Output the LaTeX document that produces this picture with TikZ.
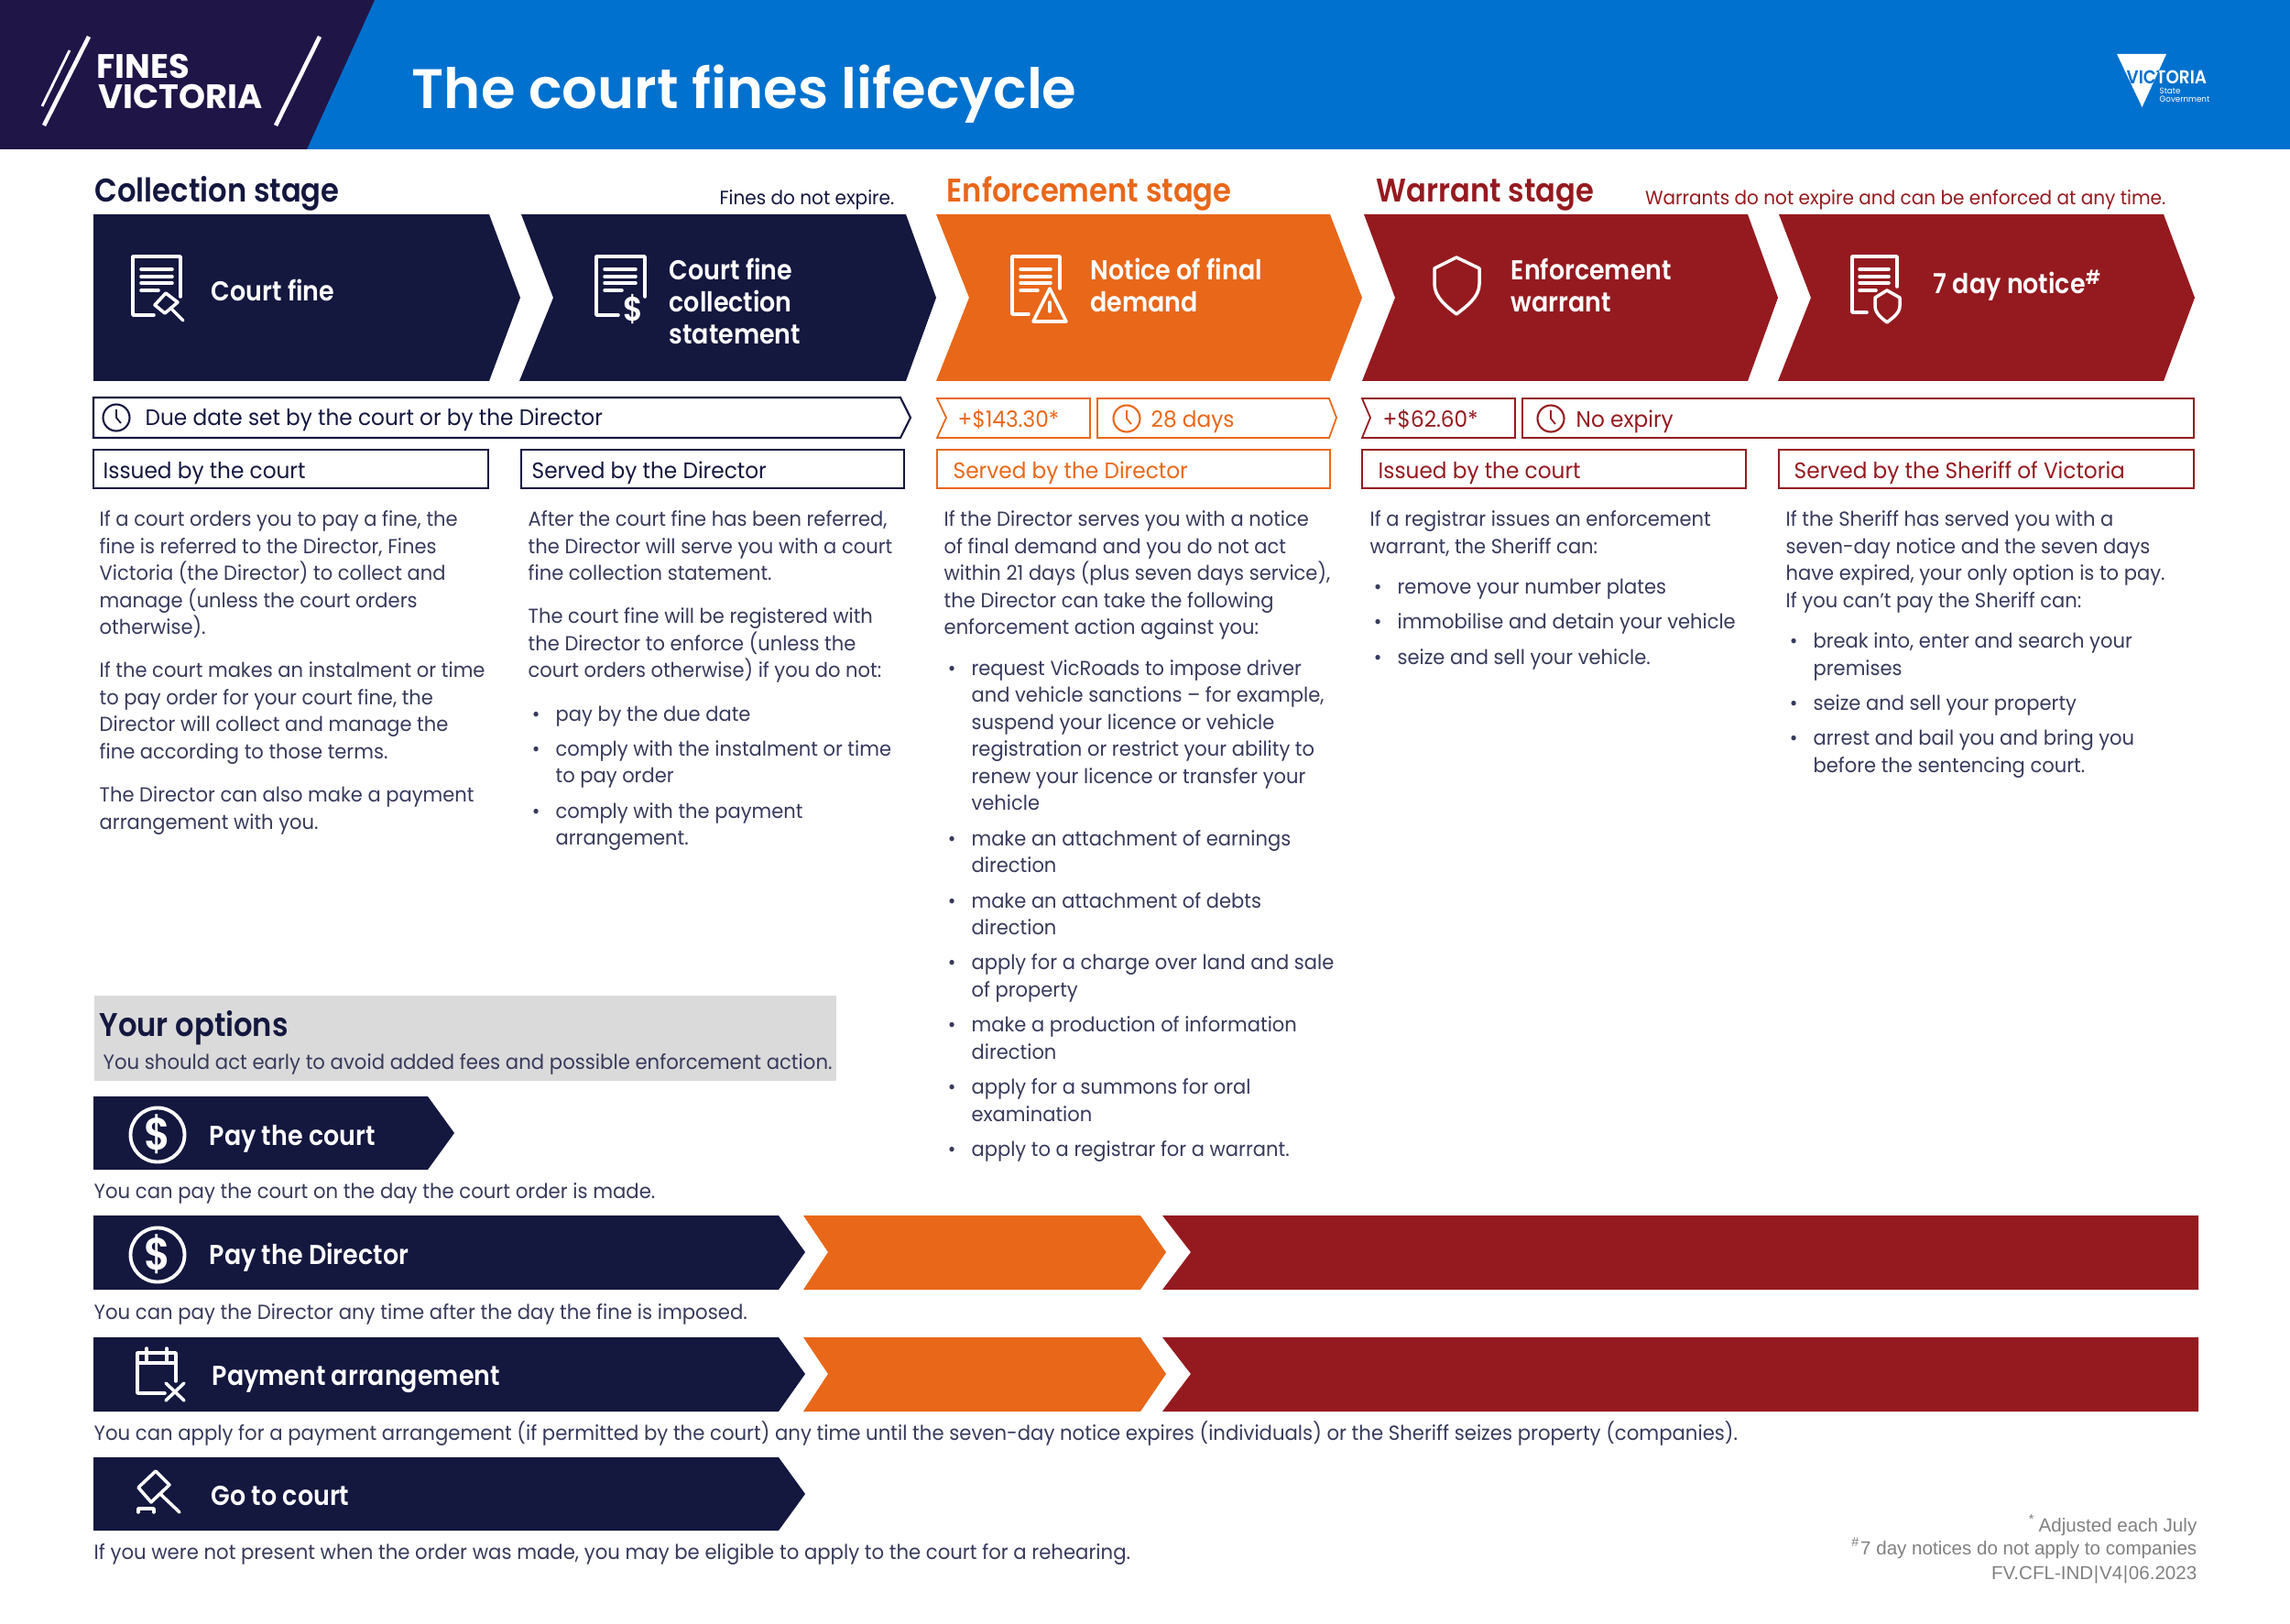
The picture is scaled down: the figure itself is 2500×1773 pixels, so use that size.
\documentclass[tikz,border=0pt]{standalone}
\usepackage{fontspec}
\setmainfont{Poppins}[FakeStretch=0.95]
\newfontfamily\semifont{Poppins SemiBold}[FakeStretch=0.9]
\newfontfamily\titlefont{Poppins SemiBold}
\newfontfamily\logofont{Poppins Bold}
\newfontfamily\footfont{Liberation Sans}

\definecolor{navyfill}{HTML}{14173E}
\definecolor{logofill}{HTML}{201547}
\definecolor{bluefill}{HTML}{0071CE}
\definecolor{orangefill}{HTML}{E96719}
\definecolor{redfill}{HTML}{951A20}
\definecolor{greyfill}{HTML}{DADADA}
\definecolor{footgrey}{HTML}{808080}

\newcommand{\bul}[1]{\makebox[8.5pt][l]{\hspace{1.2pt}\textbullet}#1}
\newcommand{\cont}[1]{\hspace*{8.5pt}#1}
\newcommand{\paragap}{\\[5pt]}
\newcommand{\listgap}{\\[4.2pt]}
\newcommand{\itemgap}{\\[2.5pt]}

% doc icon: top left, width, right side length, height, bottom length, line ends
\newcommand{\docicon}[9]{
	\draw [iconline] (#1+#6,#2+#5) -- (#1,#2+#5) -- (#1,#2) -- (#1+#3,#2) -- (#1+#3,#2+#4);
	\draw [iconline] (#1+#7,#2+14) -- (#1+#8,#2+14);
	\draw [iconline] (#1+#7,#2+22) -- (#1+#8,#2+22);
	\draw [iconline] (#1+#7,#2+29) -- (#1+#8,#2+29);
	\draw [iconline] (#1+#7,#2+37) -- (#1+#9,#2+37);
}
\newcommand{\clockicon}[3]{
	\draw [#3, line width=0.6pt] (#1,#2) circle (14.5);
	\draw [#3, line width=0.5pt] (#1,#2-9) -- (#1,#2) -- (#1+5,#2+6);
}

\tikzset{
	iconline/.style={white, line width=1pt, line cap=round, line join=round},
	bodytext/.style={inner sep=0pt, anchor=north west, align=left, text=navyfill!85!white,
		font=\fontsize{6.3}{8.4}\selectfont, execute at begin node=\strut},
	onetext/.style={inner sep=0pt, anchor=base west, text=navyfill!85!white, font=\fontsize{6.35}{8.4}\selectfont},
	chevlabel/.style={inner sep=0pt, anchor=north west, align=left, text=white,
		font=\fontsize{8.5}{10}\semifont, execute at begin node=\strut},
	stagehead/.style={inner sep=0pt, anchor=base west, font=\fontsize{10.17}{12}\semifont},
	smallnote/.style={inner sep=0pt, anchor=base east, font=\fontsize{6}{8}\selectfont},
	pilltext/.style={inner sep=0pt, anchor=base west, font=\fontsize{6.95}{8.4}\selectfont},
	footnote/.style={inner sep=0pt, anchor=base east, text=footgrey, font=\fontsize{5.85}{7.5}\footfont},
}

\begin{document}
\begin{tikzpicture}[x=0.01cm, y=-0.01cm]
	\useasboundingbox (0,0) rectangle (2500,1773);

	% header band
	\fill [bluefill] (0,0) rectangle (2500,163);
	\fill [logofill] (0,0) -- (409,0) -- (335,163) -- (0,163) -- cycle;
	\draw [white, line width=1.3pt] (97,40) -- (48,137);
	\draw [white, line width=0.8pt] (76,55) -- (46,116);
	\draw [white, line width=1.3pt] (349,40) -- (301,137);
	\node (logofines) [inner sep=0pt, anchor=base west, text=white, font=\fontsize{10.5}{11}\logofont] at (105,85.5) {FINES};
	\node (logovic) [inner sep=0pt, anchor=base west, text=white, font=\fontsize{10.5}{11}\logofont] at (107,119) {VICTORIA};
	\node (title) [inner sep=0pt, anchor=base west, text=white, font=\fontsize{17.3}{20}\titlefont] at (449,119) {The court fines lifecycle};

	\fill [white] (2311,59) -- (2365,59) -- (2338.5,117) -- cycle;
	\node (viclogo) [inner sep=0pt, anchor=base west, text=white, font=\fontsize{5.8}{6}\semifont] at (2321,92) {VICTORIA};
	\begin{scope}
		\clip (2311,59) -- (2365,59) -- (2338.5,117) -- cycle;
		\node (viclogoclip) [inner sep=0pt, anchor=base west, text=bluefill, font=\fontsize{5.8}{6}\semifont] at (2321,92) {VICTORIA};
	\end{scope}
	\node (vicstate) [inner sep=0pt, anchor=base west, text=white, font=\fontsize{2.6}{3}\selectfont] at (2357,103) {State};
	\node (vicgov) [inner sep=0pt, anchor=base west, text=white, font=\fontsize{2.6}{3}\selectfont] at (2357,112) {Government};

	% stage headings
	\node (collhead) [stagehead, text=navyfill] at (103,220.5) {Collection stage};
	\node (finesnote) [smallnote, text=navyfill] at (977,223.5) {Fines do not expire.};
	\node (enfhead) [stagehead, text=orangefill] at (1033,220.5) {Enforcement stage};
	\node (warrhead) [stagehead, text=redfill] at (1502,220.5) {Warrant stage};
	\node (warrnote) [smallnote, text=redfill] at (2365,223.5) {Warrants do not expire and can be enforced at any time.};

	% big chevrons
	\fill [navyfill] (102,234) -- (534,234) -- (568,325) -- (534,416) -- (102,416) -- cycle;
	\fill [navyfill] (569,234) -- (989,234) -- (1022,325) -- (989,416) -- (567,416) -- (604,325) -- cycle;
	\fill [orangefill] (1022,234) -- (1452,234) -- (1487,325) -- (1452,416) -- (1022,416) -- (1058,325) -- cycle;
	\fill [redfill] (1489,234) -- (1908,234) -- (1941,325) -- (1908,416) -- (1487,416) -- (1523,325) -- cycle;
	\fill [redfill] (1942,234) -- (2362,234) -- (2396,325) -- (2362,416) -- (1941,416) -- (1977,325) -- cycle;

	\node (courtfine) [chevlabel] at (230,303) {Court fine};
	\node (collstmt) [chevlabel] at (730,281.5) {Court fine\\collection\\statement};
	\node (finaldemand) [chevlabel] at (1190,281.5) {Notice of final\\demand};
	\node (enfwarrant) [chevlabel] at (1649,281.5) {Enforcement\\warrant};
	\node (sevenday) [chevlabel] at (2110,294) {7 day notice\textsuperscript{\#}};

	% icons on the chevrons
	\docicon{145}{280}{52}{44}{64}{23}{9}{43}{28}
	\draw [iconline] (169,333) -- (181,320) -- (194,330) -- (180,342) -- cycle;
	\draw [iconline] (186,336) -- (200,350);
	\docicon{651}{280}{53}{44}{64}{24}{9}{43}{28}
	\node (dollarsmall) [inner sep=0pt, text=white, font=\fontsize{10.5}{11}\semifont] at (691,338) {\$};
	\docicon{1105}{280}{52}{35}{63}{18}{9}{42}{28}
	\draw [iconline] (1146,315) -- (1164,351) -- (1128,351) -- cycle;
	\draw [iconline] (1146,330) -- (1146,340);
	\draw [iconline] (1590,281) -- (1615,293) -- (1615,310) .. controls (1615,325) and (1600,335) .. (1590,343) .. controls (1580,335) and (1566,325) .. (1566,310) -- (1566,293) -- cycle;
	\docicon{2022}{280}{49}{33}{61}{16}{8}{40}{26}
	\draw [iconline] (2060,317) -- (2074,325) -- (2074,334) .. controls (2074,342) and (2066,347) .. (2060,352) .. controls (2054,347) and (2047,342) .. (2047,334) -- (2047,325) -- cycle;

	% pills
	\draw [navyfill, line width=0.6pt] (102,434) -- (983,434) -- (994,456) -- (983,478) -- (102,478) -- cycle;
	\clockicon{127}{456}{navyfill}
	\node (duedate) [pilltext, text=navyfill] at (158,464.5) {Due date set by the court or by the Director};
	\draw [orangefill, line width=0.5pt] (1023,435) -- (1190,435) -- (1190,478) -- (1023,478) -- (1033,456) -- cycle;
	\node (feeone) [pilltext, text=orangefill] at (1045,466) {+\$143.30*};
	\draw [orangefill, line width=0.5pt] (1198,435) -- (1451,435) -- (1459,456) -- (1451,478) -- (1198,478) -- cycle;
	\clockicon{1230}{457}{orangefill}
	\node (days) [pilltext, text=orangefill] at (1256,466) {28 days};
	\draw [redfill, line width=0.5pt] (1487,435) -- (1654,435) -- (1654,478) -- (1487,478) -- (1496,456) -- cycle;
	\node (feetwo) [pilltext, text=redfill] at (1509,466) {+\$62.60*};
	\draw [redfill, line width=0.5pt] (1662,435) rectangle (2395,478);
	\clockicon{1693}{457}{redfill}
	\node (noexpiry) [pilltext, text=redfill] at (1720,466) {No expiry};

	% who issues it
	\draw [navyfill, line width=0.6pt] (102,491) rectangle (533,533);
	\node (issuedone) [pilltext, text=navyfill] at (112,522.5) {Issued by the court};
	\draw [navyfill, line width=0.6pt] (569,491) rectangle (987,533);
	\node (servedone) [pilltext, text=navyfill] at (580,522.5) {Served by the Director};
	\draw [orangefill, line width=0.5pt] (1023,491) rectangle (1452,533);
	\node (servedtwo) [pilltext, text=orangefill] at (1040,522.5) {Served by the Director};
	\draw [redfill, line width=0.5pt] (1487,491) rectangle (1906,533);
	\node (issuedtwo) [pilltext, text=redfill] at (1504,522.5) {Issued by the court};
	\draw [redfill, line width=0.5pt] (1942,491) rectangle (2395,533);
	\node (servedthree) [pilltext, text=redfill] at (1958,522.5) {Served by the Sheriff of Victoria};

	% column text
	\node (colone) [bodytext] at (108,557) {If a court orders you to pay a fine, the\\
		fine is referred to the Director, Fines\\
		Victoria (the Director) to collect and\\
		manage (unless the court orders\\
		otherwise).\paragap
		If the court makes an instalment or time\\
		to pay order for your court fine, the\\
		Director will collect and manage the\\
		fine according to those terms.\paragap
		The Director can also make a payment\\
		arrangement with you.};
	\node (coltwo) [bodytext] at (576,557) {After the court fine has been referred,\\
		the Director will serve you with a court\\
		fine collection statement.\paragap
		The court fine will be registered with\\
		the Director to enforce (unless the\\
		court orders otherwise) if you do not:\paragap
		\bul{pay by the due date}\itemgap
		\bul{comply with the instalment or time}\\
		\cont{to pay order}\itemgap
		\bul{comply with the payment}\\
		\cont{arrangement.}};
	\node (colthree) [bodytext] at (1030,557) {If the Director serves you with a notice\\
		of final demand and you do not act\\
		within 21 days (plus seven days service),\\
		the Director can take the following\\
		enforcement action against you:\listgap
		\bul{request VicRoads to impose driver}\\
		\cont{and vehicle sanctions -- for example,}\\
		\cont{suspend your licence or vehicle}\\
		\cont{registration or restrict your ability to}\\
		\cont{renew your licence or transfer your}\\
		\cont{vehicle}\itemgap
		\bul{make an attachment of earnings}\\
		\cont{direction}\itemgap
		\bul{make an attachment of debts}\\
		\cont{direction}\itemgap
		\bul{apply for a charge over land and sale}\\
		\cont{of property}\itemgap
		\bul{make a production of information}\\
		\cont{direction}\itemgap
		\bul{apply for a summons for oral}\\
		\cont{examination}\itemgap
		\bul{apply to a registrar for a warrant.}};
	\node (colfour) [bodytext] at (1495,557) {If a registrar issues an enforcement\\
		warrant, the Sheriff can:\listgap
		\bul{remove your number plates}\itemgap
		\bul{immobilise and detain your vehicle}\itemgap
		\bul{seize and sell your vehicle.}};
	\node (colfive) [bodytext] at (1949,557) {If the Sheriff has served you with a\\
		seven-day notice and the seven days\\
		have expired, your only option is to pay.\\
		If you can’t pay the Sheriff can:\listgap
		\bul{break into, enter and search your}\\
		\cont{premises}\itemgap
		\bul{seize and sell your property}\itemgap
		\bul{arrest and bail you and bring you}\\
		\cont{before the sentencing court.}};

	% your options
	\fill [greyfill] (103,1087) rectangle (913,1180);
	\node (optionshead) [stagehead, text=navyfill] at (108,1131) {Your options};
	\node (optionsnote) [onetext] at (112,1167) {You should act early to avoid added fees and possible enforcement action.};

	% option bars
	\fill [navyfill] (102,1197) -- (467,1197) -- (496,1237) -- (467,1277) -- (102,1277) -- cycle;
	\draw [white, line width=1.1pt] (172,1239) circle (29.5);
	\node (dollarone) [inner sep=0pt, text=white, font=\fontsize{14}{14}\semifont] at (172,1238) {\$};
	\node (paycourt) [chevlabel] at (228,1225) {Pay the court};
	\node (paycourtnote) [onetext] at (102,1308.5) {You can pay the court on the day the court order is made.};

	\fill [navyfill] (102,1327) -- (850,1327) -- (879,1367) -- (850,1408) -- (102,1408) -- cycle;
	\fill [orangefill] (877,1327) -- (1245,1327) -- (1273,1367) -- (1245,1408) -- (877,1408) -- (904,1367) -- cycle;
	\fill [redfill] (1269,1327) -- (2400,1327) -- (2400,1408) -- (1269,1408) -- (1300,1367) -- cycle;
	\draw [white, line width=1.1pt] (172,1370) circle (29.5);
	\node (dollartwo) [inner sep=0pt, text=white, font=\fontsize{14}{14}\semifont] at (172,1369) {\$};
	\node (paydirector) [chevlabel] at (228,1355.5) {Pay the Director};
	\node (paydirnote) [onetext] at (102,1440.5) {You can pay the Director any time after the day the fine is imposed.};

	\fill [navyfill] (102,1460) -- (850,1460) -- (879,1500) -- (850,1541) -- (102,1541) -- cycle;
	\fill [orangefill] (877,1460) -- (1245,1460) -- (1273,1500) -- (1245,1541) -- (877,1541) -- (904,1500) -- cycle;
	\fill [redfill] (1269,1460) -- (2400,1460) -- (2400,1541) -- (1269,1541) -- (1300,1500) -- cycle;
	\draw [iconline] (180,1521) -- (150,1521) -- (150,1477) -- (192,1477) -- (192,1508);
	\draw [iconline] (150,1488) -- (192,1488);
	\draw [iconline] (160,1472) -- (160,1485);
	\draw [iconline] (182,1472) -- (182,1485);
	\draw [iconline] (181,1510) -- (201,1529);
	\draw [iconline] (201,1510) -- (181,1529);
	\node (arrangement) [chevlabel] at (231,1487.5) {Payment arrangement};
	\node (arrangenote) [onetext] at (102,1572) {You can apply for a payment arrangement (if permitted by the court) any time until the seven-day notice expires (individuals) or the Sheriff seizes property (companies).};

	\fill [navyfill] (102,1591) -- (850,1591) -- (879,1631) -- (850,1671) -- (102,1671) -- cycle;
	\draw [iconline] (170,1606) -- (185,1621) -- (165,1640) -- (151,1624) -- cycle;
	\draw [iconline] (175,1631) -- (196,1651);
	\draw [iconline] (151,1651) -- (151,1647) -- (168,1647) -- (168,1651);
	\node (gotocourt) [chevlabel] at (230,1618.5) {Go to court};
	\node (gotonote) [onetext] at (102,1702) {If you were not present when the order was made, you may be eligible to apply to the court for a rehearing.};

	% footnotes
	\node (footone) [footnote] at (2399,1672) {\textsuperscript{*}\,Adjusted each July};
	\node (foottwo) [footnote] at (2399,1697) {\textsuperscript{\#}7 day notices do not apply to companies};
	\node (footthree) [footnote] at (2399,1724) {FV.CFL-IND\kern.2pt|\kern.2pt V4\kern.2pt|\kern.2pt 06.2023};
\end{tikzpicture}
\end{document}
